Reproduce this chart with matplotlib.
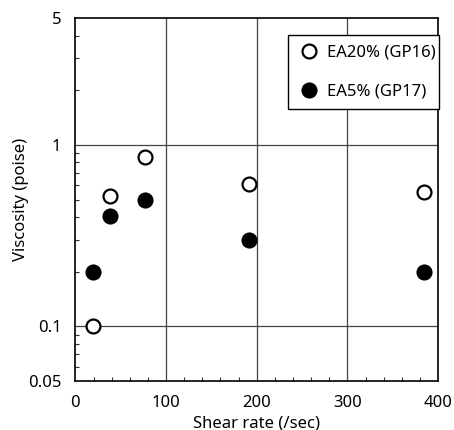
import matplotlib
matplotlib.use("Agg")
import matplotlib.pyplot as plt
from matplotlib.ticker import FixedLocator, FixedFormatter, LogLocator, MultipleLocator, NullFormatter

# Shear rates (1/s) and viscosities (poise)
shear_rate = [19.2, 38.4, 76.8, 192, 384]
visc_ea20 = [0.10, 0.52, 0.86, 0.61, 0.55]
visc_ea5 = [0.20, 0.405, 0.50, 0.30, 0.20]
series_labels = ["EA20% (GP16)", "EA5% (GP17)"]
y_ticks = [0.05, 0.1, 1, 5]
y_tick_labels = ["0.05", "0.1", "1", "5"]
x_ticks = [0, 100, 200, 300, 400]

plt.rcParams["font.family"] = ["Noto Sans", "DejaVu Sans"]

fig = plt.figure(figsize=(4.54, 4.30), dpi=100)
ax = fig.add_axes([0.166, 0.114, 0.799, 0.844])

ax.set_yscale("log")
ax.set_xlim(0, 400)
ax.set_ylim(0.05, 5)

# grid lines only at major positions
for xv in [100, 200, 300]:
    ax.axvline(xv, color="#444444", lw=0.9, zorder=1)
for yv in [0.1, 1]:
    ax.axhline(yv, color="#444444", lw=0.9, zorder=1)

ax.plot(shear_rate, visc_ea20, "o", ms=10, mfc="white", mec="black", mew=1.6,
        label=series_labels[0], zorder=3, clip_on=False)
ax.plot(shear_rate, visc_ea5, "o", ms=10, mfc="black", mec="black", mew=1.6,
        label=series_labels[1], zorder=3, clip_on=False)

ax.yaxis.set_major_locator(FixedLocator(y_ticks))
ax.yaxis.set_major_formatter(FixedFormatter(y_tick_labels))
ax.yaxis.set_minor_locator(LogLocator(base=10, subs=range(2, 10)))
ax.yaxis.set_minor_formatter(NullFormatter())
ax.xaxis.set_major_locator(FixedLocator(x_ticks))
ax.xaxis.set_minor_locator(MultipleLocator(20))

ax.tick_params(which="major", direction="in", length=0, labelsize=12, colors="black")
ax.tick_params(axis="x", which="major", pad=10)
ax.tick_params(axis="y", which="major", pad=10)
ax.tick_params(which="minor", direction="in", length=3, width=0.8, color="#333333")

for s in ax.spines.values():
    s.set_linewidth(1.2)
    s.set_color("black")

ax.set_xlabel("Shear rate (/sec)", fontsize=12, labelpad=3)
ax.set_ylabel("Viscosity (poise)", fontsize=12, labelpad=-1)

leg = ax.legend(loc="upper left", bbox_to_anchor=(0.586, 0.952, 0.417, 0.0),
                mode="expand", fontsize=12,
                frameon=True, fancybox=False, edgecolor="black", framealpha=1,
                handletextpad=0.4, labelspacing=1.4, borderpad=0.55,
                handlelength=1.4, borderaxespad=0.0)
leg.get_frame().set_linewidth(1.0)
leg.set_zorder(5)

fig.savefig("out.png", dpi=100, facecolor="white")
